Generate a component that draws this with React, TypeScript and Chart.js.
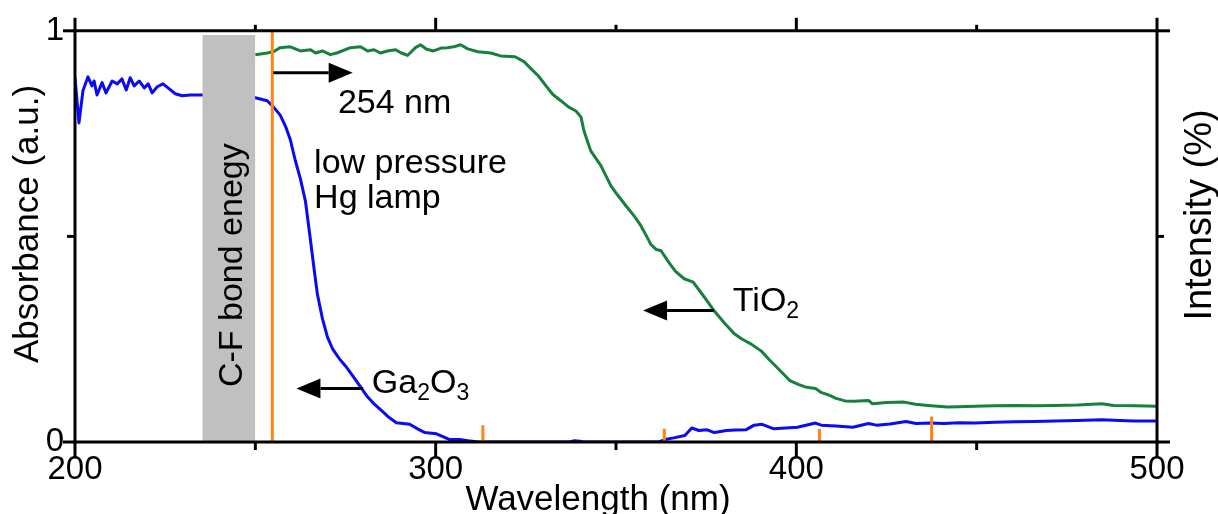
import React, { useEffect, useRef } from 'react';
import { Chart, registerables } from 'chart.js';

Chart.register(...registerables);

// ---- data ----
const gaWavelength = [
  200, 201.1, 202.2, 203.6, 204.7, 205.3, 206.1, 207.5, 208.6, 210.3, 211.7, 213, 214.2, 215.3, 216.4,
  217.8, 219.2, 220.3, 221.4, 222.8, 224.4, 225.8, 227.8, 229.7, 231.9, 235.3, 240, 245, 250, 253.3,
  255, 256.9, 258.5, 259.7, 261.1, 262.5, 263.9, 265.3, 266.3, 267.2, 268.6, 270, 271.5, 273.5, 275,
  277.9, 279.4, 281.1, 283, 285.4, 287, 289.1, 292.8, 295, 297, 300.2, 302, 303.9, 306.6, 309, 311.9,
  320, 330, 337, 338.5, 340, 341, 355, 361.8, 363.6, 366, 369.1, 371, 373, 375.1, 377.3, 380.6, 383,
  386.1, 388.3, 390.5, 393.8, 397, 400.3, 405.3, 406.9, 411, 415.7, 420, 422.2, 426, 430.4, 433.2,
  437, 440.9, 445, 449.6, 455, 460.6, 466, 471.5, 478, 484.7, 488, 493.4, 500,
];
const gaAbsorbance = [
  0.886, 0.776, 0.854, 0.888, 0.866, 0.878, 0.844, 0.874, 0.849, 0.878, 0.871, 0.883, 0.856, 0.886, 0.866,
  0.878, 0.861, 0.871, 0.849, 0.864, 0.871, 0.861, 0.847, 0.842, 0.844, 0.844, 0.842, 0.84, 0.837, 0.83,
  0.815, 0.795, 0.765, 0.735, 0.684, 0.64, 0.585, 0.49, 0.42, 0.36, 0.3, 0.255, 0.225, 0.2, 0.185,
  0.15, 0.131, 0.11, 0.092, 0.073, 0.06, 0.047, 0.043, 0.032, 0.023, 0.02, 0.013, 0.006, 0.006, 0.003, 0,
  0, 0, 0, 0.003, 0.002, 0, 0, 0, 0.006, 0.01, 0.016, 0.034, 0.028, 0.03, 0.023, 0.028, 0.029,
  0.03, 0.041, 0.043, 0.032, 0.034, 0.036, 0.046, 0.041, 0.039, 0.036, 0.045, 0.041, 0.044, 0.05, 0.045,
  0.046, 0.045, 0.047, 0.046, 0.048, 0.049, 0.05, 0.051, 0.052, 0.054, 0.053, 0.051, 0.051,
];

const tiWavelength = [
  250, 253.3, 255, 256.9, 259.7, 262.5, 265.3, 266.7, 268.6, 270.8, 272.6, 276.4, 279.2, 281.1, 282.9,
  284.7, 286.6, 288.9, 290.5, 292.2, 294.4, 295.8, 297.5, 299.4, 301.5, 303.3, 305, 306.9, 308.9, 311.7,
  315.3, 318, 322, 324.5, 326.4, 328.5, 330.6, 332.5, 334.7, 336.8, 338.9, 340.3, 341.1, 343, 345.8,
  348.6, 350.5, 352.8, 355, 356.9, 358.5, 359.7, 361.2, 362.5, 364.4, 366.5, 368.9, 371.4, 373.6, 375.5,
  377.2, 380, 382.8, 385, 387.5, 390.3, 392.5, 395, 398.1, 400.5, 402.5, 405.3, 407, 409.1, 411,
  413.5, 416, 420, 421.1, 425, 429.9, 433, 436.5, 441.9, 445, 449.6, 455, 460.6, 466, 471.5,
  478, 484.7, 488, 494, 500,
];
const tiAbsorbance = [
  0.942, 0.946, 0.949, 0.959, 0.961, 0.951, 0.954, 0.946, 0.951, 0.942, 0.946, 0.959, 0.961, 0.951, 0.954,
  0.946, 0.951, 0.954, 0.946, 0.94, 0.959, 0.966, 0.955, 0.951, 0.958, 0.959, 0.961, 0.966, 0.956, 0.949,
  0.946, 0.939, 0.937, 0.925, 0.908, 0.89, 0.866, 0.845, 0.83, 0.815, 0.805, 0.79, 0.757, 0.708, 0.672,
  0.623, 0.6, 0.574, 0.55, 0.526, 0.5, 0.48, 0.468, 0.465, 0.44, 0.415, 0.397, 0.389, 0.363, 0.34,
  0.319, 0.29, 0.263, 0.25, 0.238, 0.221, 0.2, 0.178, 0.15, 0.14, 0.134, 0.13, 0.12, 0.114, 0.106,
  0.1, 0.099, 0.101, 0.093, 0.096, 0.097, 0.092, 0.089, 0.085, 0.086, 0.087, 0.088, 0.089, 0.088, 0.089,
  0.09, 0.093, 0.089, 0.088, 0.087,
];

// Hg lamp emission lines (intensity, %)
const lampWavelength = [254.7, 313.1, 363.4, 406.4, 437.5];
const lampIntensity = [100, 4.1, 3.2, 3.2, 6.2];

// C-F bond energy band
const bandWavelength = [235.3, 250];
const bandLevel = [0.99, 0.99];

// axis ticks
const xTicks = [200, 300, 400, 500];
const xMinorTicks = [250, 350, 450];
const yTicks = [0, 1];
const yMinorTicks = [0.5];

// ---- styles ----
const FONT = "'Liberation Sans', Arial, Helvetica, sans-serif";
const BLUE = '#0a0af5';
const GREEN = '#17803f';
const ORANGE = '#ff8410';
const GRAY = '#c0c0c0';

// annotations in data units
const texts = [
  { parts: [{ t: '254 nm' }], x: 272.9, y: 0.799 },
  { parts: [{ t: 'low pressure' }], x: 266.3, y: 0.655 },
  { parts: [{ t: 'Hg lamp' }], x: 266.3, y: 0.57 },
  { parts: [{ t: 'Ga' }, { t: '2', sub: true }, { t: 'O' }, { t: '3', sub: true }], x: 282.3, y: 0.119 },
  { parts: [{ t: 'TiO' }, { t: '2', sub: true }], x: 382.4, y: 0.318 },
];
const arrows = [
  { from: 255, to: 277, y: 0.898 },
  { from: 279.9, to: 261.4, y: 0.13 },
  { from: 377.2, to: 357.5, y: 0.32 },
];
const bandLabel = { text: 'C-F bond enegy', x: 246.3, y: 0.43 };

const frameAndNotes = {
  id: 'frameAndNotes',
  afterDatasetsDraw(chart: any) {
    const { ctx, chartArea: a, scales } = chart;
    const xs = scales.x;
    const ys = scales.y;
    const L = a.left, R = a.right, T = a.top, B = a.bottom;
    ctx.save();
    ctx.strokeStyle = '#000';
    ctx.fillStyle = '#000';
    ctx.lineWidth = 3;
    const seg = (x1: number, y1: number, x2: number, y2: number, cap = 'butt') => {
      ctx.lineCap = cap;
      ctx.beginPath();
      ctx.moveTo(x1, y1);
      ctx.lineTo(x2, y2);
      ctx.stroke();
    };
    // frame
    seg(L, T, R, T, 'square');
    seg(L, B, R, B, 'square');
    seg(L, T, L, B, 'square');
    seg(R, T, R, B, 'square');
    // x ticks
    xTicks.forEach((v) => {
      const p = xs.getPixelForValue(v);
      seg(p, B, p, B + 15);
      seg(p, T, p, T - 13);
    });
    xMinorTicks.forEach((v) => {
      const p = xs.getPixelForValue(v);
      seg(p, B, p, B + 8);
      seg(p, T, p, T - 6);
    });
    // y ticks
    yTicks.forEach((v) => {
      const p = ys.getPixelForValue(v);
      seg(L, p, L - 12, p);
      seg(R, p, R + 13, p);
    });
    yMinorTicks.forEach((v) => {
      const p = ys.getPixelForValue(v);
      seg(L, p, L - 8, p);
      seg(R, p, R + 7, p);
    });

    // arrows
    arrows.forEach((ar) => {
      const x1 = xs.getPixelForValue(ar.from);
      const x2 = xs.getPixelForValue(ar.to);
      const y = ys.getPixelForValue(ar.y);
      const dir = Math.sign(x2 - x1);
      const head = 24;
      seg(x1, y, x2 - dir * head, y);
      ctx.beginPath();
      ctx.moveTo(x2, y);
      ctx.lineTo(x2 - dir * head, y - 10);
      ctx.lineTo(x2 - dir * head, y + 10);
      ctx.closePath();
      ctx.fill();
    });

    // texts
    ctx.textBaseline = 'alphabetic';
    ctx.textAlign = 'left';
    texts.forEach((tx) => {
      let x = xs.getPixelForValue(tx.x);
      const y = ys.getPixelForValue(tx.y);
      tx.parts.forEach((p: any) => {
        ctx.font = p.sub ? `23px ${FONT}` : `34px ${FONT}`;
        ctx.fillText(p.t, x, p.sub ? y + 7 : y);
        x += ctx.measureText(p.t).width;
      });
    });

    // band label (rotated)
    ctx.save();
    ctx.font = `34px ${FONT}`;
    ctx.textAlign = 'center';
    ctx.translate(xs.getPixelForValue(bandLabel.x), ys.getPixelForValue(bandLabel.y));
    ctx.rotate(-Math.PI / 2);
    ctx.fillText(bandLabel.text, 0, 0);
    ctx.restore();

    // axis titles
    ctx.font = `35px ${FONT}`;
    ctx.textAlign = 'center';
    ctx.fillText('Wavelength (nm)', 598, 510);

    ctx.save();
    ctx.translate(38, 224);
    ctx.rotate(-Math.PI / 2);
    ctx.fillText('Absorbance (a.u.)', 0, 0);
    ctx.restore();

    ctx.save();
    ctx.font = `38px ${FONT}`;
    ctx.translate(1211, 215);
    ctx.rotate(-Math.PI / 2);
    ctx.fillText('Intensity (%)', 0, 0);
    ctx.restore();

    ctx.restore();
  },
};

export default function App() {
  const ref = useRef<HTMLCanvasElement>(null);

  useEffect(() => {
    const canvas = ref.current;
    if (!canvas) return;

    const gaData = gaWavelength.map((x, i) => ({ x, y: gaAbsorbance[i] }));
    const tiData = tiWavelength.map((x, i) => ({ x, y: tiAbsorbance[i] }));
    const lampData: any[] = [];
    lampWavelength.forEach((x, i) => {
      lampData.push({ x, y: 0 }, { x, y: lampIntensity[i] }, { x, y: null });
    });
    const bandData = bandWavelength.map((x, i) => ({ x, y: bandLevel[i] }));

    const tickFont = { family: FONT, size: 33 };

    const chart = new Chart(canvas, {
      type: 'line',
      data: {
        datasets: [
          {
            label: 'Hg lamp',
            data: lampData,
            yAxisID: 'y2',
            borderColor: ORANGE,
            borderWidth: 3,
            pointRadius: 0,
            spanGaps: false,
            order: 0,
          },
          {
            label: 'C-F bond energy',
            data: bandData,
            yAxisID: 'y',
            borderWidth: 0,
            borderColor: GRAY,
            backgroundColor: GRAY,
            fill: 'origin',
            pointRadius: 0,
            order: 1,
          },
          {
            label: 'TiO2',
            data: tiData,
            yAxisID: 'y',
            borderColor: GREEN,
            borderWidth: 3,
            borderJoinStyle: 'round',
            pointRadius: 0,
            order: 2,
          },
          {
            label: 'Ga2O3',
            data: gaData,
            yAxisID: 'y',
            borderColor: BLUE,
            borderWidth: 3,
            borderJoinStyle: 'round',
            pointRadius: 0,
            order: 3,
          },
        ],
      },
      options: {
        responsive: false,
        animation: false,
        layout: { padding: { top: 30, left: 0, right: 0, bottom: 0 } },
        plugins: { legend: { display: false }, tooltip: { enabled: false } },
        elements: { line: { tension: 0 } },
        scales: {
          x: {
            type: 'linear',
            position: 'bottom',
            min: 200,
            max: 500,
            grid: { display: false, drawTicks: false },
            border: { display: false },
            ticks: { font: tickFont, color: '#000', padding: 8, maxRotation: 0, autoSkip: false },
            afterBuildTicks: (s: any) => {
              s.ticks = xTicks.map((v) => ({ value: v }));
            },
            afterFit: (s: any) => {
              s.height = 72;
            },
          },
          y: {
            type: 'linear',
            position: 'left',
            min: 0,
            max: 1,
            grid: { display: false, drawTicks: false },
            border: { display: false },
            ticks: { font: tickFont, color: '#000', padding: 11 },
            afterBuildTicks: (s: any) => {
              s.ticks = yTicks.map((v) => ({ value: v }));
            },
            afterFit: (s: any) => {
              s.width = 75;
            },
          },
          y2: {
            type: 'linear',
            position: 'right',
            min: 0,
            max: 100,
            grid: { display: false, drawTicks: false },
            border: { display: false },
            ticks: { display: false },
            afterFit: (s: any) => {
              s.width = 61;
            },
          },
        },
      },
      plugins: [frameAndNotes],
    });

    return () => chart.destroy();
  }, []);

  return (
    <div style={{ position: 'absolute', left: 0, top: 0, width: 1218, height: 514, background: '#fff' }}>
      <canvas ref={ref} width={1218} height={514} style={{ display: 'block', width: 1218, height: 514 }} />
    </div>
  );
}
